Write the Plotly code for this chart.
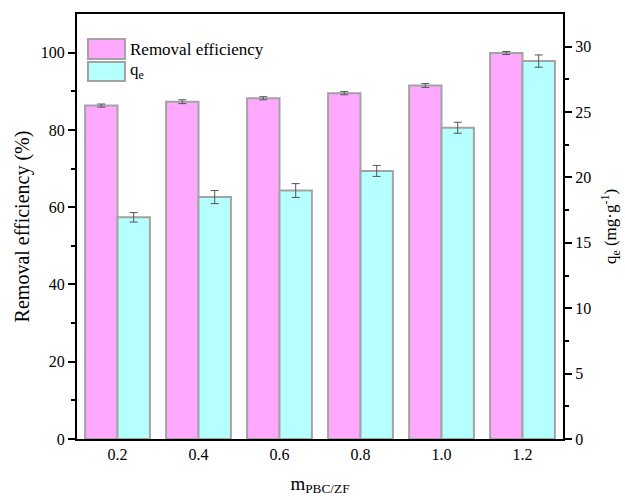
import plotly.graph_objects as go

categories = ["0.2", "0.4", "0.6", "0.8", "1.0", "1.2"]
removal = [86.3, 87.3, 88.2, 89.5, 91.5, 99.9]
removal_err = [0.4, 0.5, 0.4, 0.4, 0.5, 0.4]
qe = [16.95, 18.5, 19.0, 20.5, 23.8, 28.9]
qe_err = [0.36, 0.5, 0.53, 0.42, 0.42, 0.47]

FONT = "Liberation Serif, Times New Roman, serif"
PINK = "#FFA8FF"
CYAN = "#B5FFFF"
EDGE = "#A3A3A3"
ERR = "#555555"

fig = go.Figure()
fig.add_trace(go.Bar(
    x=categories, y=removal, name="Removal efficiency",
    marker=dict(color=PINK, line=dict(color=EDGE, width=2)),
    error_y=dict(type="data", array=removal_err, color=ERR, thickness=1, width=4),
    offsetgroup="a", yaxis="y", showlegend=False,
))
fig.add_trace(go.Bar(
    x=categories, y=qe, name="q<sub>e</sub>",
    marker=dict(color=CYAN, line=dict(color=EDGE, width=2)),
    error_y=dict(type="data", array=qe_err, color=ERR, thickness=1, width=4),
    offsetgroup="b", yaxis="y2", showlegend=False,
))

fig.update_layout(
    width=625, height=500,
    margin=dict(l=77, r=62, t=14, b=61),
    paper_bgcolor="white", plot_bgcolor="white",
    font=dict(family=FONT, size=16, color="black"),
    barmode="group", bargap=0.2, bargroupgap=0.0,
    xaxis=dict(
        type="category", range=[-0.5, 5.5], automargin=False,
        showline=True, linewidth=2, linecolor="black", mirror=True,
        ticks="", showgrid=False,
        tickfont=dict(family=FONT, size=16, color="black"),
        title=dict(text="m<sub>PBC/ZF</sub>", font=dict(family=FONT, size=19, color="black"), standoff=14),
    ),
    yaxis=dict(
        range=[0, 110], tickvals=[0, 20, 40, 60, 80, 100], automargin=False,
        showline=True, linewidth=2, linecolor="black",
        ticks="outside", ticklen=7, tickwidth=2, tickcolor="black",
        minor=dict(tickvals=[10, 30, 50, 70, 90], ticks="outside", ticklen=4, tickwidth=2, tickcolor="black"),
        showgrid=False, zeroline=False,
        tickfont=dict(family=FONT, size=16, color="black"),
        title=dict(text="Removal efficiency (%)", font=dict(family=FONT, size=20, color="black"), standoff=6),
    ),
    yaxis2=dict(
        overlaying="y", side="right", range=[0, 32.5], automargin=False,
        tickvals=[0, 5, 10, 15, 20, 25, 30],
        showline=True, linewidth=2, linecolor="black",
        ticks="outside", ticklen=7, tickwidth=2, tickcolor="black",
        minor=dict(tickvals=[2.5, 7.5, 12.5, 17.5, 22.5, 27.5], ticks="outside", ticklen=4, tickwidth=2, tickcolor="black"),
        showgrid=False, zeroline=False,
        tickfont=dict(family=FONT, size=16, color="black"),
        title=dict(text="q<sub>e</sub> (mg·g<sup>-1</sup>)", font=dict(family=FONT, size=17, color="black"), standoff=14),
    ),
)

# custom legend (large swatches like the reference)
px0, px1 = 77, 563
py0, py1 = 14, 439
def fx(p):
    return (p - px0) / (px1 - px0)
def fy(p):
    return 1 - (p - py0) / (py1 - py0)

legend_items = [("Removal efficiency", PINK, 39, 59), ("q<sub>e</sub>", CYAN, 62, 81)]
for label, col, ya, yb in legend_items:
    fig.add_shape(type="rect", xref="paper", yref="paper",
                  x0=fx(88), x1=fx(125), y0=fy(yb), y1=fy(ya),
                  fillcolor=col, line=dict(color=EDGE, width=2))
    fig.add_annotation(xref="paper", yref="paper", x=fx(128), y=fy((ya + yb) / 2),
                       text=label, showarrow=False, xanchor="left", yanchor="middle",
                       font=dict(family=FONT, size=17, color="black"))

fig.write_html("out.html")
